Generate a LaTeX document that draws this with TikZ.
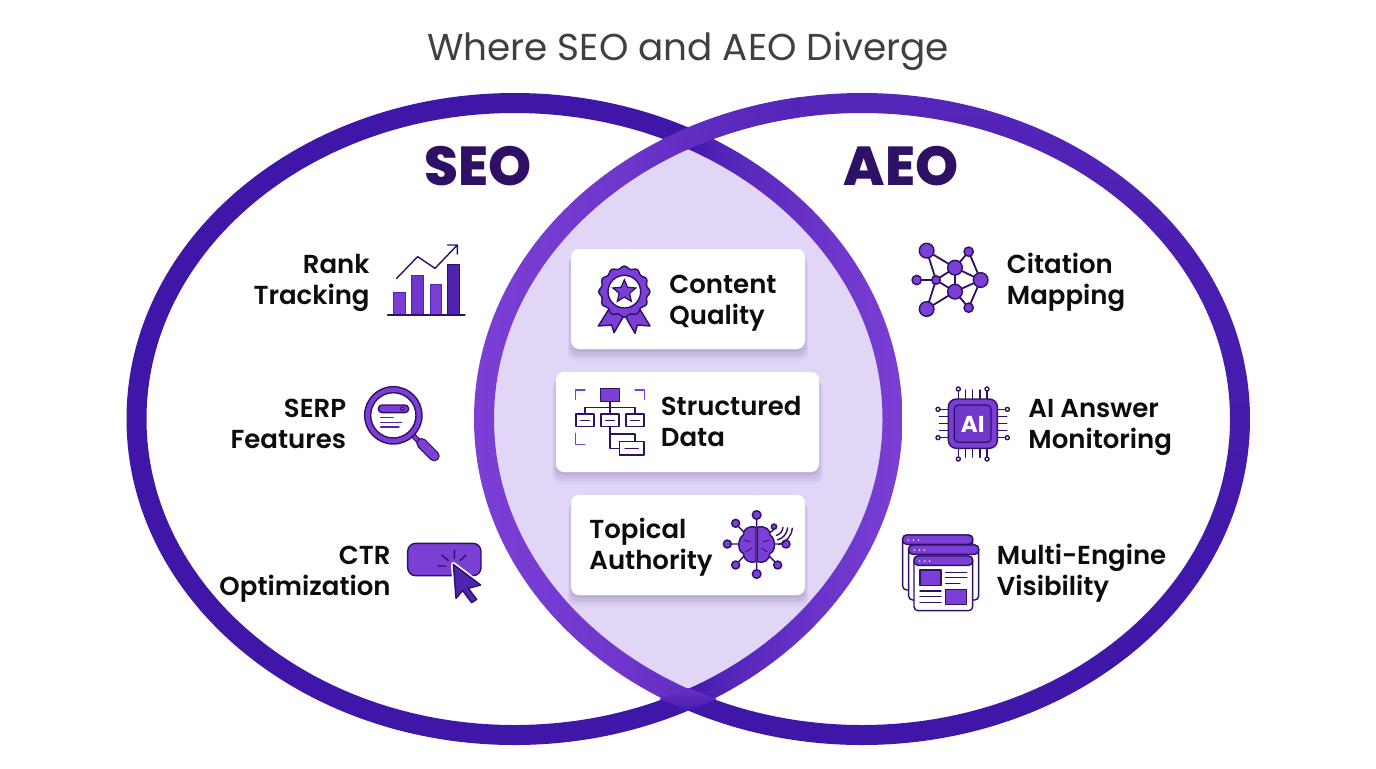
\documentclass[tikz,border=0pt]{standalone}
\usepackage{fontspec}
\setmainfont{Poppins}
\newfontfamily\medfont{Poppins SemiBold}
\newfontfamily\headfont{Poppins ExtraBold}
\usetikzlibrary{shadows,shapes.geometric}
\definecolor{deep}{HTML}{3F16A8}
\definecolor{lens}{HTML}{E1D6F6}
\definecolor{ink}{HTML}{2E1065}
\definecolor{iconfill}{HTML}{7C3FD6}
\definecolor{icondark}{HTML}{4F24B0}
\pgfdeclarehorizontalshading{seoring}{100bp}{color(0bp)=(deep); color(61bp)=(deep);
  color(63bp)=(deep!70!iconfill); color(68.4bp)=(deep!35!iconfill); color(75bp)=(iconfill); color(100bp)=(iconfill)}
\pgfdeclarehorizontalshading{aeoleft}{100bp}{color(0bp)=(iconfill); color(25bp)=(iconfill);
  color(34bp)=(deep!20!iconfill); color(39bp)=(deep!45!iconfill); color(46bp)=(deep!66!iconfill); color(100bp)=(deep!66!iconfill)}
\pgfdeclareverticalshading{aeoright}{100bp}{color(0bp)=(deep); color(25bp)=(deep);
  color(50bp)=(deep!90!iconfill); color(63bp)=(deep!80!iconfill); color(75bp)=(deep!62!iconfill); color(100bp)=(deep!62!iconfill)}

\begin{document}
\begin{tikzpicture}[x=0.5pt,y=-0.5pt]
\tikzstyle{title}=[font=\fontsize{18.7}{23}\selectfont, text=black!75]
\tikzstyle{head}=[font=\fontsize{27.4}{32}\selectfont\headfont, text=ink]
\tikzstyle{lab}=[font=\fontsize{13}{15.5}\selectfont\medfont, text=black!95, inner sep=0pt]
\tikzstyle{labr}=[lab, anchor=base east, align=right]
\tikzstyle{labl}=[lab, anchor=base west, align=left]
\tikzstyle{card}=[rectangle, rounded corners=4pt, fill=white, inner sep=0pt,
  general shadow={shadow yshift=-5pt, shadow scale=1.03, fill=ink, opacity=.03},
  general shadow={shadow yshift=-4pt, shadow scale=1.02, fill=ink, opacity=.05},
  general shadow={shadow yshift=-3pt, shadow scale=1.01, fill=ink, opacity=.06},
  general shadow={shadow yshift=-1.5pt, fill=ink, opacity=.07}]
\tikzstyle{ic}=[draw=ink, fill=iconfill, line width=.7pt, line join=round]
\tikzstyle{icw}=[draw=ink, fill=white, line width=.7pt, line join=round]
\tikzstyle{icl}=[draw=ink, line width=.7pt, line cap=round, line join=round]
\tikzstyle{ring}=[even odd rule]

  \useasboundingbox (0,0) rectangle (1376,768);
  \fill[white] (0,0) rectangle (1376,768);

  % lens
  \begin{scope}
    \clip (514.5,419) ellipse [x radius=378, y radius=316];
    \fill[lens] (862,419) ellipse [x radius=378, y radius=316];
  \end{scope}

  % rings
  \shade[ring, shading=seoring]
    (514.5,419) ellipse [x radius=388, y radius=326]
    (514.5,419) ellipse [x radius=368, y radius=306];
  \begin{scope}
    \clip (688,0) rectangle (1376,768);
    \shade[ring, shading=aeoright]
      (862,419) ellipse [x radius=388, y radius=326]
      (862,419) ellipse [x radius=368, y radius=306];
  \end{scope}
  \begin{scope}
    \clip (400,0) rectangle (688.5,768) (688,0) rectangle (800,300);
    \shade[ring, shading=aeoleft]
      (862,419) ellipse [x radius=388, y radius=326]
      (862,419) ellipse [x radius=368, y radius=306];
  \end{scope}
  \shade[top color=deep!35!iconfill, bottom color=deep!85!iconfill]
    (688,688) -- (717,699) -- (688,710) -- (659,699) -- cycle;

  % texts
  \node[title] (maintitle) at (688,51) {Where SEO and AEO Diverge};
  \node[head] (seo) at (478.5,166) {SEO};
  \node[head] (aeo) at (901,166) {AEO};

  \node[labr] (rank) at (370,304) {Rank\\Tracking};
  \node[labr] (serp) at (346.5,448) {SERP\\Features};
  \node[labr] (ctr)  at (391,595) {CTR\\Optimization};
  \node[labl] (cite) at (1006.5,304) {Citation\\Mapping};
  \node[labl] (ans)  at (1028,448) {AI Answer\\Monitoring};
  \node[labl] (vis)  at (996.5,595) {Multi-Engine\\Visibility};

  % cards
  \node[card, minimum width=117pt, minimum height=50pt] (quality) at (688,299) {};
  \node[card, minimum width=131.5pt, minimum height=50pt] (data) at (687.5,422) {};
  \node[card, minimum width=117pt, minimum height=50pt] (topical) at (688,545) {};
  \node[labl] (qualitytxt) at (669,324) {Content\\Quality};
  \node[labl] (datatxt) at (660.5,446) {Structured\\Data};
  \node[labl] (topicaltxt) at (589,569) {Topical\\Authority};

  % left icons
  \begin{scope}[shift={(220,230)},scale=1/3]
    \draw[draw=icondark, fill=iconfill, line width=.4pt] (520,188) rectangle (555,255) (630,163) rectangle (665,255);
    \draw[draw=icondark, fill=iconfill!70!icondark, line width=.4pt] (575,135) rectangle (610,255);
    \draw[draw=ink, fill=icondark, line width=.4pt] (683,102) rectangle (718,255);
    \draw[icl] (503,255) -- (735,255);
    \draw[icl] (530,145) -- (593,80) -- (645,115) -- (712,45) (683,45) -- (712,45) -- (712,72);
    % magnifier
    \draw[draw=ink, line width=2.6pt] (575,612) -- (605,642);
    \draw[draw=iconfill, line width=1.6pt] (575,612) -- (605,642);
    \draw[draw=ink, line width=5.4pt, line cap=round] (605,640) -- (643,678);
    \draw[draw=iconfill, line width=4.2pt, line cap=round] (605,640) -- (643,678);
    \draw[ic] (520,556) circle [radius=86];
    \draw[icw] (520,556) circle [radius=68];
    \draw[ic, rounded corners=1.9pt] (475,525) rectangle (566,548);
    \draw[icl, line width=.4pt] (547,536) circle [radius=6];
    \draw[icl, icondark] (482,563) -- (520,563) (482,577) -- (545,577) (482,591) -- (537,591);
    % button
    \draw[ic, rounded corners=4pt] (563,940) rectangle (783,1037);
    \draw[icl] (703,960) -- (703,985) (738,975) -- (720,992) (665,975) -- (685,992) (655,1008) -- (678,1008);
    \draw[draw=white, fill=white, line width=2.4pt, line join=round] (700,1003) -- (782,1065) -- (745,1075) -- (770,1108)
      -- (755,1118) -- (728,1082) -- (708,1105) -- cycle;
    \draw[ic, fill=icondark] (700,1003) -- (782,1065) -- (745,1075) -- (770,1108)
      -- (755,1118) -- (728,1082) -- (708,1105) -- cycle;
  \end{scope}

  % card icons
  \begin{scope}[shift={(550,240)},scale=1/3]
    % badge
    \draw[ic] (178,205) -- (145,258) -- (185,255) -- (192,278) -- (225,222) -- cycle;
    \draw[ic] (268,205) -- (300,258) -- (262,255) -- (255,280) -- (222,222) -- cycle;
    \draw[ic] plot [smooth cycle, domain=0:355, samples=72]
      ({223+(73+4*cos(12*\x))*cos(\x)},{155+(73+4*cos(12*\x))*sin(\x)});
    \draw[icw] (223,155) circle [radius=49];
    \node[star, star points=5, star point ratio=2.2, fill=iconfill, draw=ink, line width=.6pt,
      minimum size=12pt, inner sep=0pt] (badgestar) at (223,155) {};
    % tree
    \draw[icl, iconfill] (105,450) -- (77,450) -- (77,478) (255,450) -- (283,450) -- (283,478) (77,580) -- (77,613) -- (105,613);
    \draw[icl] (180,485) -- (180,522) (105,522) -- (105,503) -- (255,503) -- (255,522);
    \draw[icl] (180,560) -- (180,625) -- (208,625) (180,582) -- (255,582) -- (255,605);
    \draw[ic] (152,445) rectangle (208,485);
    \foreach \bx in {78,153,228} {
      \draw[icw] (\bx,522) rectangle ++(54,38);
      \draw[icl] (\bx+14,541) -- ++(26,0);
    }
    \draw[icw] (208,605) rectangle (282,645);
    \draw[icl] (225,625) -- (265,625);
    % brain
    \draw[icl] (620,838) -- (620,860) (566,860) -- (585,880) (544,912) -- (568,912) (566,965) -- (585,945)
      (620,988) -- (620,968) (674,965) -- (655,945) (696,912) -- (672,912) (672,868) -- (660,878);
    \foreach \sx/\sy/\sr in {620/825/13,557/850/12,532/912/12,557/975/12,620/1002/13,683/975/12,708/912/12,672/860/8}
      \draw[ic] (\sx,\sy) circle [radius=\sr];
    \draw[icl] (672,860) ++(75:27) arc (75:5:27);
    \draw[icl] (672,860) ++(75:41) arc (75:5:41);
    \draw[icl] (672,860) ++(75:55) arc (75:5:55);
    \draw[ic] (618,862) .. controls (595,855) and (578,870) .. (580,885)
      .. controls (562,895) and (562,935) .. (580,940)
      .. controls (580,960) and (600,972) .. (618,965) -- cycle;
    \draw[ic] (622,862) .. controls (645,855) and (662,870) .. (660,885)
      .. controls (678,895) and (678,935) .. (660,940)
      .. controls (660,960) and (640,972) .. (622,965) -- cycle;
    \draw[icl, line width=.4pt] (582,900) -- (600,905) (588,935) -- (605,925)
      (658,900) -- (640,905) (652,935) -- (635,925);
  \end{scope}

  % right icons
  \begin{scope}[shift={(890,230)},scale=1/3]
    % network
    \draw[icl, line width=.9pt] (110,62) -- (195,113) (110,62) -- (138,150) (236,65) -- (195,113) (236,65) -- (272,150)
      (195,113) -- (272,150) (195,113) -- (138,150) (195,113) -- (195,185) (272,150) -- (195,185)
      (272,150) -- (236,233) (138,150) -- (80,150) (138,150) -- (195,185) (138,150) -- (110,237)
      (195,185) -- (110,237) (195,185) -- (236,233);
    \foreach \nx/\ny/\nr in {110/62/22,236/65/14,195/113/22,272/150/22,138/150/13,80/150/14,195/185/22,110/237/22,236/233/14}
      \draw[ic] (\nx,\ny) circle [radius=\nr];
    % chip
    \foreach \pt in {226,248,270} {
      \draw[icl] (\pt,480) -- (\pt,507) (\pt,655) -- (\pt,682);
    }
    \foreach \pt in {560,581,602} {
      \draw[icl] (148,\pt) -- (175,\pt) (322,\pt) -- (350,\pt);
    }
    \foreach \pt in {205,291} {
      \draw[icl] (\pt,484) -- (\pt,507) (\pt,655) -- (\pt,680);
      \draw[icw] (\pt,477) circle [radius=6] (\pt,687) circle [radius=6];
    }
    \foreach \pt in {538,623} {
      \draw[icl] (150,\pt) -- (175,\pt) (322,\pt) -- (345,\pt);
      \draw[icw] (144,\pt) circle [radius=6] (352,\pt) circle [radius=6];
    }
    \draw[ic, rounded corners=4pt] (175,507) rectangle (322,655);
    \draw[draw=ink, fill=iconfill!75!icondark, line width=.6pt, rounded corners=2pt] (193,525) rectangle (303,637);
    \node[font=\fontsize{11.5}{13}\selectfont\bfseries, text=white] (chiptxt) at (248,582) {AI};
    % windows
    \foreach \wx/\wy/\ww/\wh in {38/915/210/165,56/945/210/165,72/978/176/164} {
      \draw[icw, rounded corners=2pt] (\wx,\wy) rectangle ++(\ww,\wh);
      \draw[ic, rounded corners=2pt] (\wx,\wy) rectangle ++(\ww,28);
      \fill[white] (\wx+17,\wy+15) circle [radius=2.5] (\wx+32,\wy+15) circle [radius=2.5] (\wx+47,\wy+15) circle [radius=2.5];
    }
    \draw[ic] (90,1020) rectangle (153,1067);
    \draw[ic] (167,1078) rectangle (230,1123);
    \draw[icl] (167,1027) -- (230,1027) (167,1043) -- (230,1043) (167,1060) -- (210,1060)
      (90,1083) -- (153,1083) (90,1100) -- (153,1100) (90,1117) -- (153,1117);
  \end{scope}
\end{tikzpicture}
\end{document}
